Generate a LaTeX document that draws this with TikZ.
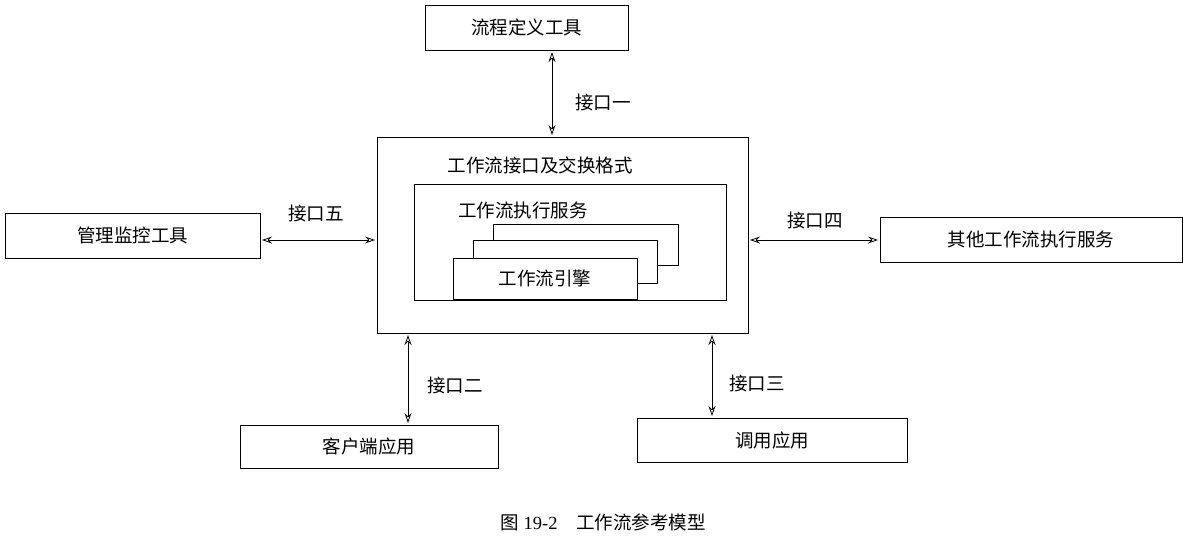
\documentclass[tikz,border=0pt]{standalone}
\usepackage{fontspec}
\setmainfont{Liberation Serif}
\newfontfamily\cjk{Noto Sans CJK SC}
\usetikzlibrary{arrows.meta}
\begin{document}
\begin{tikzpicture}[x=1pt,y=-1pt,
  box/.style={draw,line width=1pt,fill=white},
  lab/.style={font=\cjk\fontsize{18.5}{18.5}\selectfont},
  link/.style={line width=0.8pt,{Stealth[open,length=10pt,width=7pt]}-{Stealth[open,length=10pt,width=7pt]}}]
\useasboundingbox (0,0) rectangle (1195,542);
\draw[box] (425,5) rectangle (628,50) node[midway,lab] (t1) {流程定义工具};
\draw[box] (377,137) rectangle (748,333);
\node[lab] at (540,165) (tm) {工作流接口及交换格式};
\draw[box] (414,184) rectangle (726,300);
\node[lab] at (523,210) (ts) {工作流执行服务};
\draw[box] (493,224) rectangle (678,265);
\draw[box] (473,240) rectangle (657,283);
\draw[box] (453,258) rectangle (637,299) node[midway,lab] (te) {工作流引擎};
\draw[box] (5,213) rectangle (260,258) node[midway,lab] (tl) {管理监控工具};
\draw[box] (880,217) rectangle (1182,262) node[midway,lab] (tr) {其他工作流执行服务};
\draw[box] (240,425) rectangle (498,468) node[midway,lab] (tc) {客户端应用};
\draw[box] (637,418) rectangle (907,462) node[midway,lab] (tu) {调用应用};
\coordinate (a1) at (552,52); \coordinate (b1) at (552,135);
\coordinate (a5) at (262,240); \coordinate (b5) at (375,240);
\coordinate (a4) at (750,240); \coordinate (b4) at (878,240);
\coordinate (a2) at (408,335); \coordinate (b2) at (408,423);
\coordinate (a3) at (712,335); \coordinate (b3) at (712,416);
\draw[link] (a1) -- (b1);
\draw[link] (a5) -- (b5);
\draw[link] (a4) -- (b4);
\draw[link] (a2) -- (b2);
\draw[link] (a3) -- (b3);
\node[lab] (l1) at (603,102) {接口一};
\node[lab] (l5) at (316,213) {接口五};
\node[lab] (l4) at (815,220) {接口四};
\node[lab] (l2) at (455,385) {接口二};
\node[lab] (l3) at (757,383) {接口三};
\node[font=\fontsize{18.5}{18.5}\selectfont] (cap) at (603,522) {{\cjk 图} 19-2\quad{\cjk 工作流参考模型}};
\end{tikzpicture}
\end{document}
